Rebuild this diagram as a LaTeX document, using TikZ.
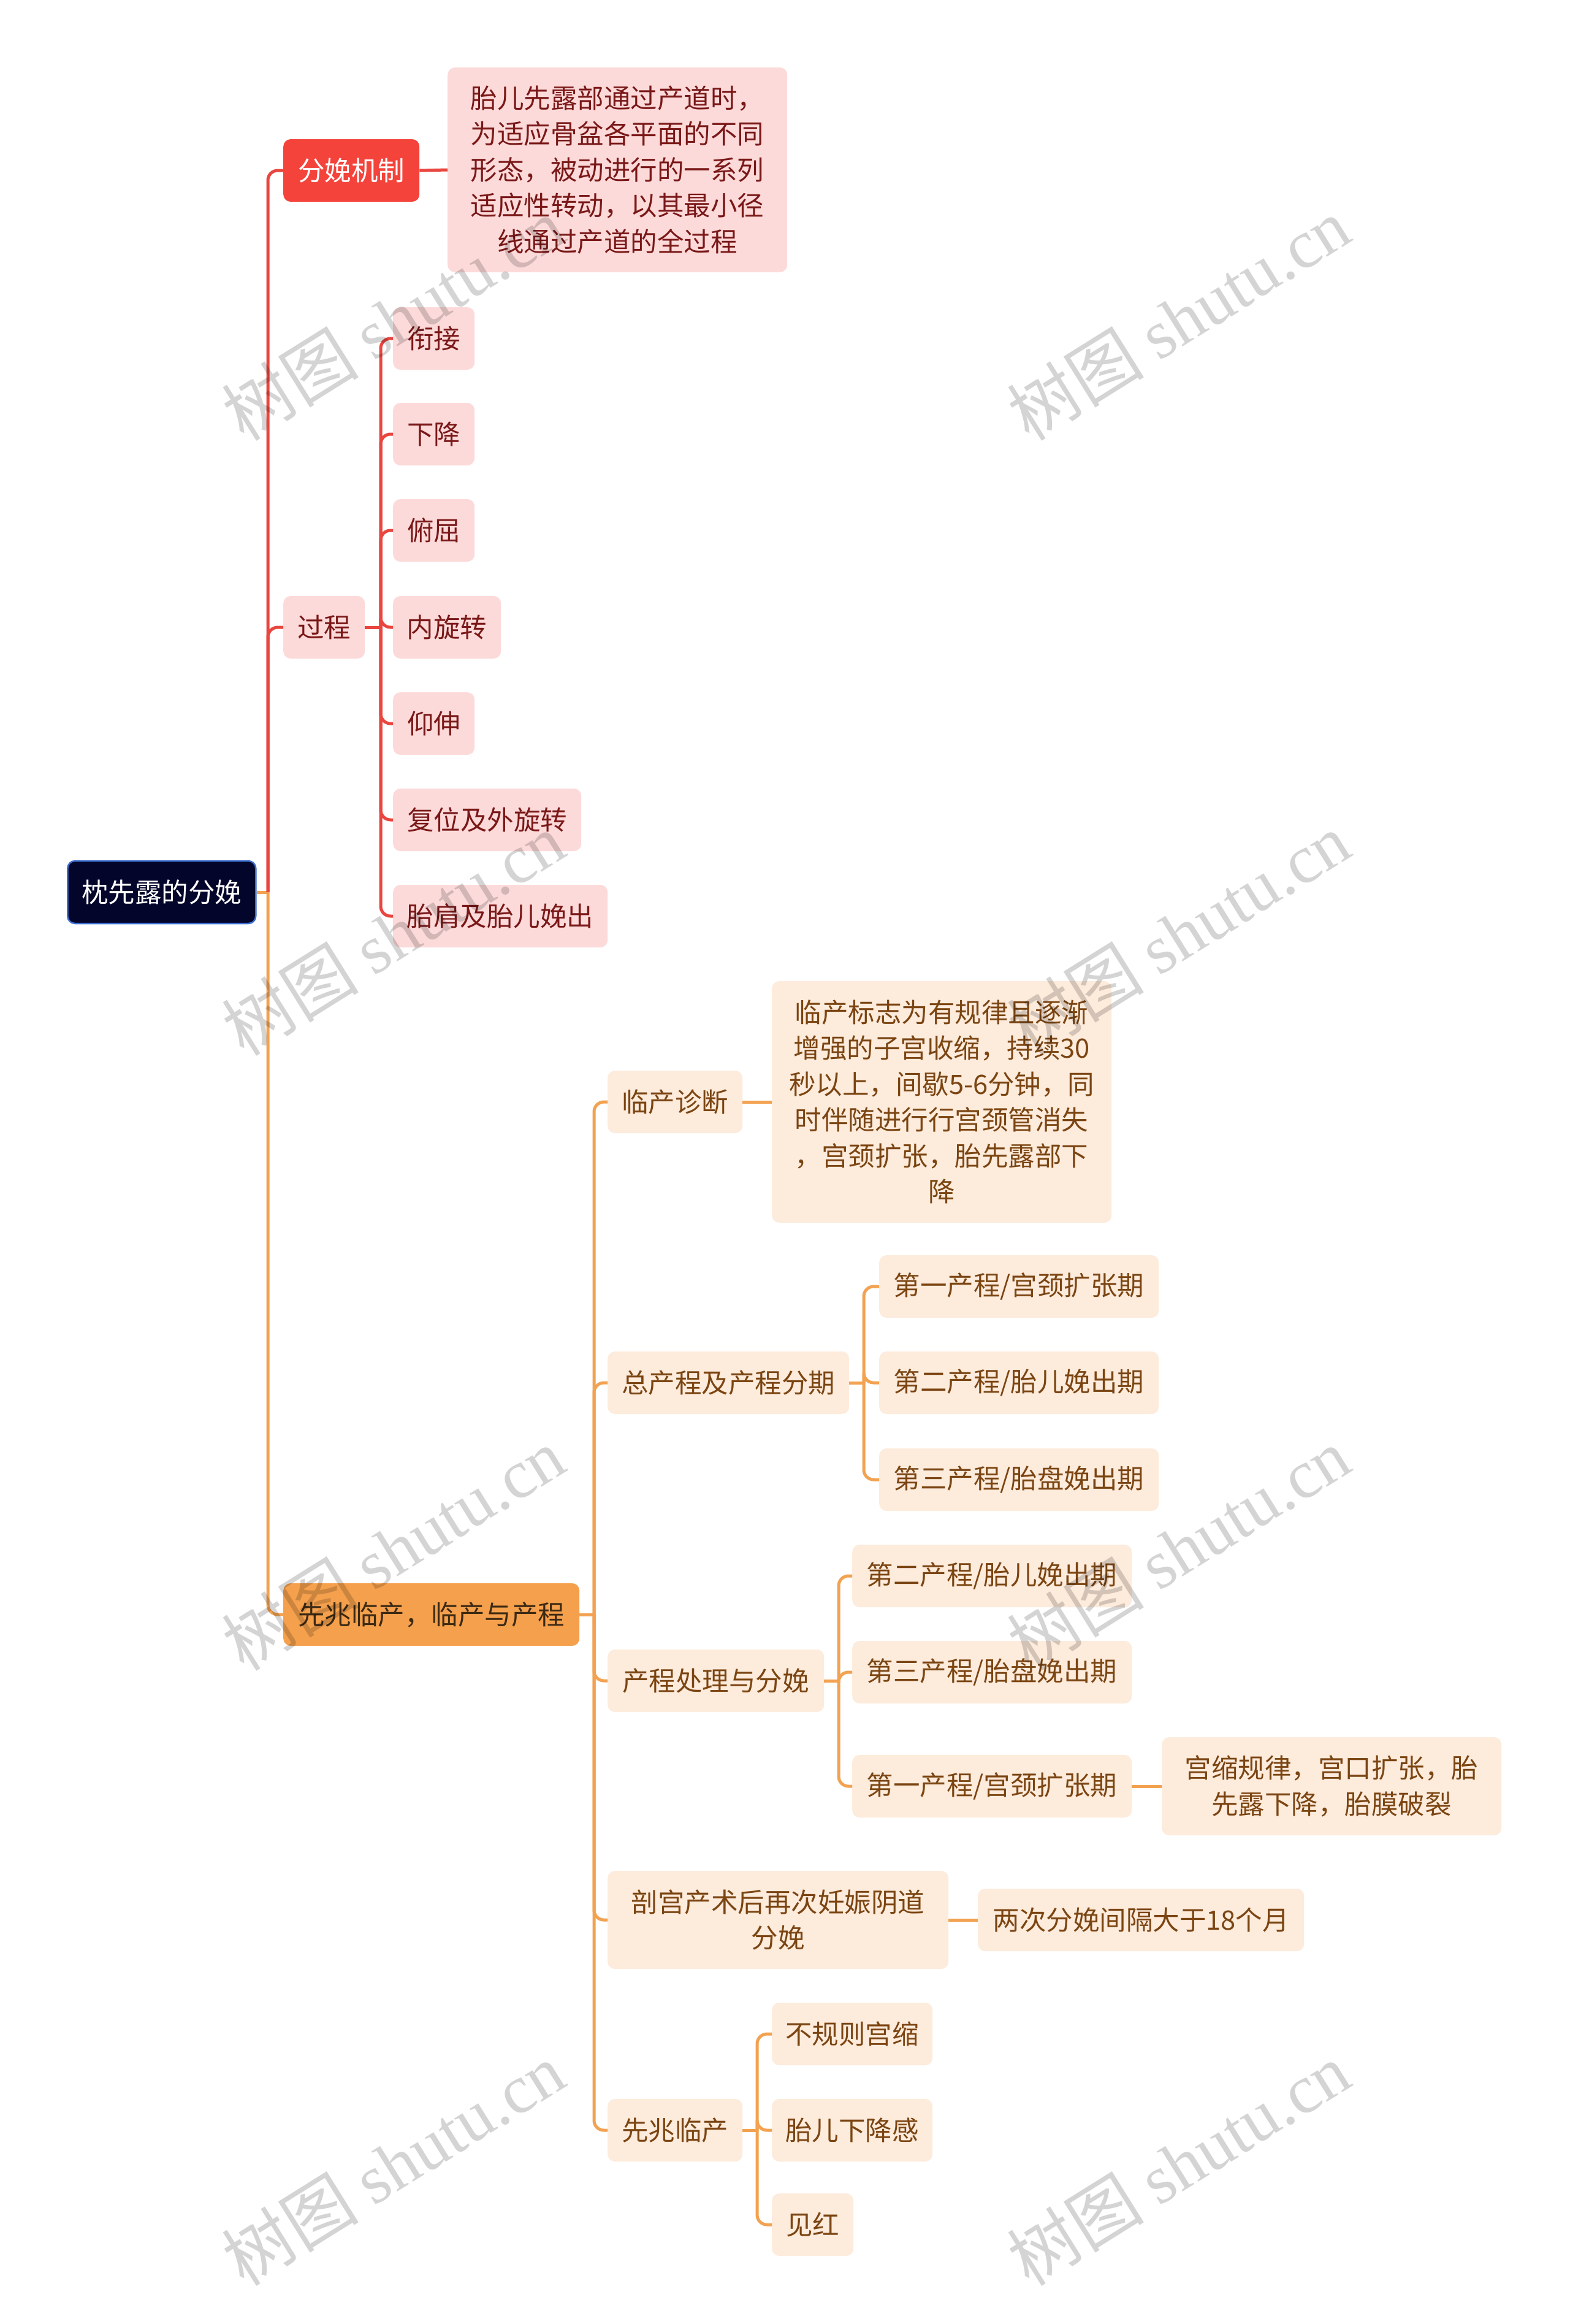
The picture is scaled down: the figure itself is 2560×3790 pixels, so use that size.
\documentclass[tikz,border=0pt]{standalone}
\usepackage{fontspec}
\setmainfont{Noto Sans CJK SC}
\newfontfamily\wmlatin{Liberation Serif}
\definecolor{rootfill}{HTML}{03052B}
\definecolor{rootborder}{HTML}{3E6FCF}
\definecolor{redmain}{HTML}{F4433B}
\definecolor{redline}{HTML}{E8463F}
\definecolor{pinkfill}{HTML}{FDDADA}
\definecolor{pinktext}{HTML}{7A1818}
\definecolor{ormain}{HTML}{F5A04C}
\definecolor{orline}{HTML}{F2A251}
\definecolor{orfill}{HTML}{FDEBDC}
\definecolor{ortext}{HTML}{7B4512}
\definecolor{ormaintext}{HTML}{3C2A14}
\tikzset{
  box/.style={rounded corners=12pt, minimum height=102pt, inner sep=0pt, align=center,
    anchor=west, font=\fontsize{43.5pt}{58.5pt}\selectfont},
  rootbox/.style={box, fill=rootfill, draw=rootborder, line width=2.5pt, text=white},
  redbox/.style={box, fill=redmain, text=white},
  pinkbox/.style={box, fill=pinkfill, text=pinktext},
  orbox/.style={box, fill=ormain, text=ormaintext},
  peachbox/.style={box, fill=orfill, text=ortext},
  rl/.style={draw=redline, line width=5pt, rounded corners=16pt},
  ol/.style={draw=orline, line width=5pt, rounded corners=16pt},
  wm/.style={rotate=32, text=black, text opacity=0.17, font=\fontsize{112pt}{112pt}\selectfont}
}
\begin{document}
\begin{tikzpicture}[x=1pt,y=-1pt]
\useasboundingbox[fill=white] (0,0) rectangle (2560,3790);

% root
\node[rootbox, minimum width=307pt] (root) at (109,1455) {枕先露的分娩};
\coordinate (j0) at (437,1455);

% red branch
\node[redbox, minimum width=222pt] (fm) at (462,278) {分娩机制};
\node[pinkbox, minimum width=554pt, minimum height=334pt] (d1) at (730,277)
  {胎儿先露部通过产道时，\\为适应骨盆各平面的不同\\形态，被动进行的一系列\\适应性转动，以其最小径\\线通过产道的全过程};
\node[pinkbox, minimum width=133pt] (gc) at (462,1023) {过程};
\coordinate (j1) at (621,1023);
\node[pinkbox, minimum width=133pt] (p1) at (641,552) {衔接};
\node[pinkbox, minimum width=133pt] (p2) at (641,708) {下降};
\node[pinkbox, minimum width=133pt] (p3) at (641,865) {俯屈};
\node[pinkbox, minimum width=176pt] (p4) at (641,1023) {内旋转};
\node[pinkbox, minimum width=133pt] (p5) at (641,1180) {仰伸};
\node[pinkbox, minimum width=307pt] (p6) at (641,1337) {复位及外旋转};
\node[pinkbox, minimum width=350pt] (p7) at (641,1494) {胎肩及胎儿娩出};

% orange branch
\node[orbox, minimum width=483pt] (xz) at (462,2633) {先兆临产，临产与产程};
\coordinate (j2) at (969,2633);
\node[peachbox, minimum width=220pt] (lczd) at (991,1797) {临产诊断};
\node[peachbox, minimum width=554pt, minimum height=394pt] (d2) at (1259,1797)
  {临产标志为有规律且逐渐\\增强的子宫收缩，持续30\\秒以上，间歇5-6分钟，同\\时伴随进行行宫颈管消失\\，宫颈扩张，胎先露部下\\降};
\node[peachbox, minimum width=394pt] (zcc) at (991,2255) {总产程及产程分期};
\coordinate (j3) at (1409,2255);
\node[peachbox, minimum width=456pt] (z1) at (1434,2098) {第一产程/宫颈扩张期};
\node[peachbox, minimum width=456pt] (z2) at (1434,2255) {第二产程/胎儿娩出期};
\node[peachbox, minimum width=456pt] (z3) at (1434,2413) {第三产程/胎盘娩出期};
\node[peachbox, minimum width=353pt] (cc) at (991,2741) {产程处理与分娩};
\coordinate (j4) at (1368,2741);
\node[peachbox, minimum width=456pt] (c1) at (1390,2570) {第二产程/胎儿娩出期};
\node[peachbox, minimum width=456pt] (c2) at (1390,2727) {第三产程/胎盘娩出期};
\node[peachbox, minimum width=456pt] (c3) at (1390,2913) {第一产程/宫颈扩张期};
\node[peachbox, minimum width=554pt, minimum height=160pt] (d3) at (1895,2913)
  {宫缩规律，宫口扩张，胎\\先露下降，胎膜破裂};
\node[peachbox, minimum width=556pt, minimum height=160pt] (pg) at (991,3131)
  {剖宫产术后再次妊娠阴道\\分娩};
\node[peachbox, minimum width=532pt] (lc) at (1595,3131) {两次分娩间隔大于18个月};
\node[peachbox, minimum width=220pt] (xl) at (991,3474) {先兆临产};
\coordinate (j5) at (1235,3474);
\node[peachbox, minimum width=262pt] (x1) at (1259,3317) {不规则宫缩};
\node[peachbox, minimum width=262pt] (x2) at (1259,3474) {胎儿下降感};
\node[peachbox, minimum width=133pt] (x3) at (1259,3628) {见红};

% connectors
\draw[ol] (root.east) -- (j0);
\draw[rl] (j0) |- (fm.west);
\draw[rl] (j0) |- (gc.west);
\draw[ol] (j0) |- (xz.west);
\draw[rl] (fm.east) -- (d1.west);
\draw[rl] (gc.east) -- (j1);
\foreach \n in {p1,p2,p3,p4,p5,p6,p7} \draw[rl] (j1) |- (\n.west);
\draw[ol] (xz.east) -- (j2);
\foreach \n in {lczd,zcc,cc,pg,xl} \draw[ol] (j2) |- (\n.west);
\draw[ol] (lczd.east) -- (d2.west);
\draw[ol] (zcc.east) -- (j3);
\foreach \n in {z1,z2,z3} \draw[ol] (j3) |- (\n.west);
\draw[ol] (cc.east) -- (j4);
\foreach \n in {c1,c2,c3} \draw[ol] (j4) |- (\n.west);
\draw[ol] (c3.east) -- (d3.west);
\draw[ol] (pg.east) -- (lc.west);
\draw[ol] (xl.east) -- (j5);
\foreach \n in {x1,x2,x3} \draw[ol] (j5) |- (\n.west);

% watermarks
\foreach \wx in {641,1922}
  \foreach \wy in {520,1523,2526,3529}
    \node[wm] at (\wx,\wy) {树图 {\wmlatin shutu.cn}};
\end{tikzpicture}
\end{document}
